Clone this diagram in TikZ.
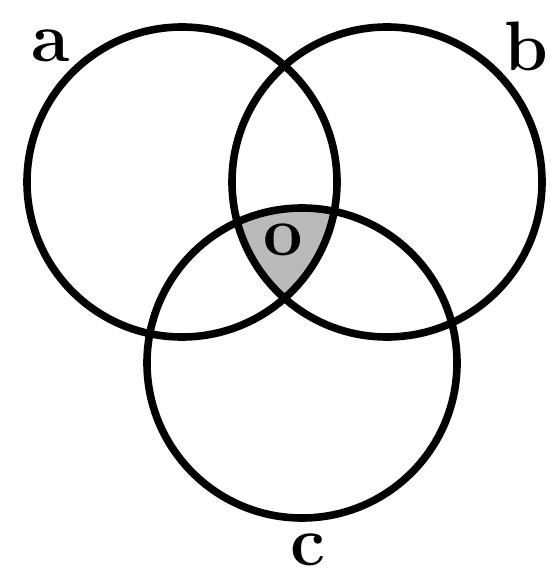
\documentclass[tikz,border=0pt]{standalone}
\begin{document}
\begin{tikzpicture}[x=0.5pt,y=-0.5pt,
  ring/.style={draw=black,line width=3.8pt},
  lbl/.style={font=\fontsize{35}{35}\selectfont\bfseries,inner sep=0pt}]
\useasboundingbox (0,0) rectangle (553,577);
\coordinate (ca) at (182,182);
\coordinate (cb) at (387,182);
\coordinate (cc) at (302,363);
\begin{scope}
  \clip (ca) circle[radius=77.5pt];
  \clip (cb) circle[radius=77.5pt];
  \fill[black!27] (cc) circle[radius=77.5pt];
\end{scope}
\draw[ring] (ca) circle[radius=77.5pt];
\draw[ring] (cb) circle[radius=77.5pt];
\draw[ring] (cc) circle[radius=77.5pt];
\node[lbl] (la) at (51,46) {a};
\node[lbl] (lb) at (526,46) {b};
\node[lbl] (lc) at (308,550) {c};
\node[lbl] (lo) at (283,240) {o};
\end{tikzpicture}
\end{document}
